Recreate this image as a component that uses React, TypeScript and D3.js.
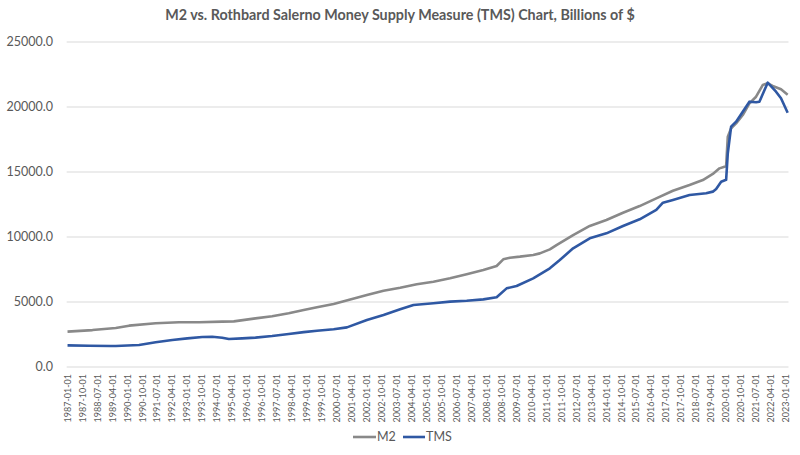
import * as d3 from 'd3'

const M2_DATES = ['1987-01','1988-04','1989-06','1990-02','1991-06','1992-08','1993-08','1994-10','1995-05','1996-06','1997-04','1998-02','1998-11','1999-07','2000-05','2001-03','2002-01','2002-11','2003-09','2004-07','2005-05','2006-03','2007-01','2007-11','2008-07','2008-11','2009-03','2009-09','2010-05','2010-09','2011-03','2011-07','2012-05','2013-03','2014-01','2014-11','2015-09','2016-07','2017-05','2018-03','2018-11','2019-05','2019-09','2019-12','2020-01','2020-02','2020-04','2020-07','2020-11','2021-03','2021-07','2021-11','2022-02','2022-05','2022-10','2023-02']
const M2_VALUES = [2720,2840,3000,3180,3360,3440,3440,3490,3510,3740,3900,4130,4380,4590,4850,5200,5540,5870,6100,6360,6560,6820,7130,7460,7770,8280,8410,8490,8620,8740,9050,9380,10150,10850,11310,11870,12380,12970,13560,14000,14380,14850,15280,15410,15450,17720,18360,18740,19380,20280,20790,21690,21820,21620,21360,20950]

const TMS_DATES = ['1987-01','1988-02','1989-03','1989-06','1990-08','1991-06','1992-04','1993-01','1993-10','1994-04','1994-10','1995-02','1995-10','1996-06','1997-04','1998-02','1998-11','1999-07','2000-05','2001-01','2002-01','2002-11','2003-09','2004-05','2005-05','2006-03','2007-01','2007-11','2008-07','2009-01','2009-07','2010-05','2011-03','2011-09','2012-05','2013-03','2014-01','2014-11','2015-09','2016-07','2016-11','2017-05','2018-03','2019-01','2019-05','2019-07','2019-10','2020-01','2020-02','2020-04','2020-07','2020-11','2021-03','2021-07','2021-09','2022-02','2022-07','2022-10','2023-02']
const TMS_VALUES = [1660,1640,1620,1610,1690,1900,2080,2200,2310,2330,2250,2150,2200,2260,2380,2540,2680,2790,2900,3050,3620,4000,4440,4770,4900,5030,5100,5200,5360,6050,6230,6820,7590,8230,9130,9900,10280,10850,11360,12080,12640,12850,13230,13360,13490,13700,14250,14400,16440,18490,18870,19640,20410,20360,20410,21870,21180,20670,19560]

const Y_TICKS = [0, 5000, 10000, 15000, 20000, 25000]
const FIRST = '1987-01'
const LAST = '2023-02'
const LABEL_STEP = 9

const W = 800, H = 455
const M = { l: 66.7, r: 11.5, t: 42, b: 88 }

const monthIdx = (s: string) => {
  const [y, m] = s.split('-').map(Number)
  const [y0, m0] = FIRST.split('-').map(Number)
  return (y - y0) * 12 + (m - m0)
}

const nMonths = monthIdx(LAST) + 1
const labels: { i: number; text: string }[] = []
for (let i = 0; i < nMonths; i += LABEL_STEP) {
  const y = 1987 + Math.floor(i / 12), m = (i % 12) + 1
  labels.push({ i, text: `${y}-${String(m).padStart(2, '0')}-01` })
}

export default function App() {
  const x = d3.scaleLinear().domain([-0.5, nMonths - 0.5]).range([M.l, W - M.r])
  const y = d3.scaleLinear().domain([0, 25000]).range([H - M.b, M.t])
  const line = d3.line<[string, number]>().x(d => x(monthIdx(d[0]))).y(d => y(d[1]))
  const m2 = M2_DATES.map((d, i) => [d, M2_VALUES[i]] as [string, number])
  const tms = TMS_DATES.map((d, i) => [d, TMS_VALUES[i]] as [string, number])
  const font = 'Lato, "Liberation Sans", sans-serif'
  const txt = '#595959'

  return (
    <div style={{ position: 'absolute', left: 0, top: 0 }}>
      <svg width={W} height={H} style={{ display: 'block', background: '#fff' }} fontFamily={font}>
        <text x={400} y={20} textAnchor="middle" fontSize={14.3} fontWeight="bold" fill={txt}>
          M2 vs. Rothbard Salerno Money Supply Measure (TMS) Chart, Billions of $
        </text>
        {Y_TICKS.map(t => (
          <g key={t}>
            <line x1={M.l} x2={W - M.r} y1={y(t)} y2={y(t)} stroke="#d9d9d9" strokeWidth={1} />
            <text x={53} y={y(t)} dy="0.35em" textAnchor="end" fontSize={12.5} fill={txt}>{t.toFixed(1)}</text>
          </g>
        ))}
        {labels.map(l => (
          <text key={l.i} transform={`translate(${x(l.i)},${H - M.b + 7}) rotate(-90)`} dy="0.35em"
            textAnchor="end" fontSize={9} fill={txt}>{l.text}</text>
        ))}
        <path d={line(m2) || ''} fill="none" stroke="#898989" strokeWidth={2.6} strokeLinejoin="round" />
        <path d={line(tms) || ''} fill="none" stroke="#2f58a3" strokeWidth={2.6} strokeLinejoin="round" />
        <g fontSize={12.5} fill={txt}>
          <line x1={353} x2={376} y1={437} y2={437} stroke="#898989" strokeWidth={2.6} />
          <text x={377} y={437} dy="0.35em">M2</text>
          <line x1={403} x2={425} y1={437} y2={437} stroke="#2f58a3" strokeWidth={2.6} />
          <text x={426} y={437} dy="0.35em">TMS</text>
        </g>
      </svg>
    </div>
  )
}
